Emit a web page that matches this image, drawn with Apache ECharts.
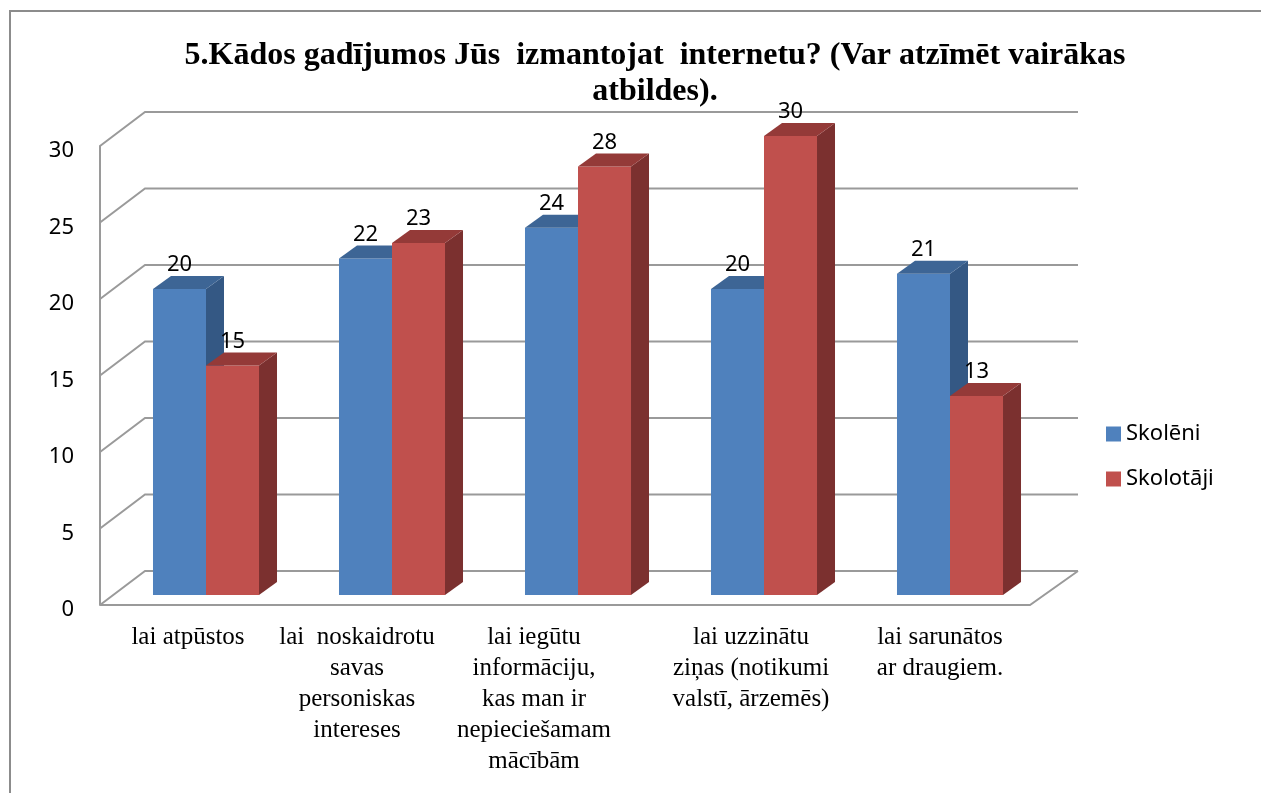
<!DOCTYPE html>
<html>
<head>
    <meta charset="utf-8"/>
    <title>5.Kādos gadījumos Jūs izmantojat internetu?</title>
    <script src="https://cdn.jsdelivr.net/npm/echarts@6/dist/echarts.min.js"></script>
    <style>
        html, body { margin: 0; padding: 0; background: #fff; }
        #chart1 { width: 1261px; height: 793px; }
    </style>
</head>
<body>
<div id="chart1"></div>
<script type="text/javascript">
    // dati
    var categories = [
        'lai atpūstos',
        'lai  noskaidrotu\nsavas\npersoniskas\nintereses',
        'lai iegūtu\ninformāciju,\nkas man ir\nnepieciešamam\nmācībām',
        'lai uzzinātu\nziņas (notikumi\nvalstī, ārzemēs)',
        'lai sarunātos\nar draugiem.'
    ];
    var skoleni = [20, 22, 24, 20, 21];
    var skolotaji = [15, 23, 28, 30, 13];
    var yTicks = [0, 5, 10, 15, 20, 25, 30];

    // 3D izskats (pikseļos)
    var WALL_DX = 45, WALL_DY = -34, WALL_DX_R = 48;
    var BAR_DX = 13, BAR_DY = -10, DEPTH_DX = 18, DEPTH_DY = -13;
    // kategoriju parakstu nobīde pa kreisi (px)
    var labelShift = [5, 22, 31, 0, -3];

    var myChart1 = echarts.init(document.getElementById('chart1'));

    function barRenderer(slot, colors) {
        return function (params, api) {
            var idx = api.value(0), v = api.value(1);
            var top = api.coord([idx, v]);
            var base = api.coord([idx, 0]);
            var bw = api.size([1, 0])[0] * 0.285;
            var x0 = top[0] - bw + slot * bw + BAR_DX;
            var yT = top[1] + BAR_DY, yB = base[1] + BAR_DY;
            return {
                type: 'group',
                children: [
                    {
                        type: 'rect',
                        shape: {x: x0, y: yT, width: bw, height: yB - yT},
                        style: {fill: colors[0]}
                    },
                    {
                        type: 'polygon',
                        shape: {points: [[x0 + bw, yT], [x0 + bw + DEPTH_DX, yT + DEPTH_DY],
                            [x0 + bw + DEPTH_DX, yB + DEPTH_DY], [x0 + bw, yB]]},
                        style: {fill: colors[2]}
                    },
                    {
                        type: 'polygon',
                        shape: {points: [[x0, yT], [x0 + DEPTH_DX, yT + DEPTH_DY],
                            [x0 + bw + DEPTH_DX, yT + DEPTH_DY], [x0 + bw, yT]]},
                        style: {fill: colors[1]}
                    },
                    {
                        type: 'text',
                        style: {
                            x: x0 + bw / 2, y: yT - 24, text: String(v),
                            align: 'center', verticalAlign: 'middle',
                            font: '22px "Noto Sans"', fill: '#000'
                        }
                    }
                ]
            };
        };
    }

    function wallRenderer(params, api) {
        var v = api.value(1);
        var y = api.coord([0, v])[1];
        var cs = params.coordSys;
        var x0 = cs.x, x1 = cs.x + cs.width;
        var st = {stroke: '#9a9a9a', lineWidth: 2, fill: null};
        var children = [{
            type: 'polyline',
            shape: {points: [[x0, y], [x0 + WALL_DX, y + WALL_DY], [x1 + WALL_DX_R, y + WALL_DY]]},
            style: st
        }];
        if (v === 0) {
            children.push({
                type: 'polyline',
                shape: {points: [[x0, y], [x1, y], [x1 + WALL_DX_R, y + WALL_DY]]},
                style: st
            });
        }
        return {type: 'group', children: children};
    }

    myChart1.setOption({
        animation: false,
        title: {
            text: '5.Kādos gadījumos Jūs  izmantojat  internetu? (Var atzīmēt vairākas\natbildes).',
            left: 650,
            top: 33,
            textAlign: 'center',
            textStyle: {
                fontFamily: '"Liberation Serif", serif',
                fontWeight: 'bold',
                fontSize: 32,
                lineHeight: 36,
                color: '#000'
            }
        },
        legend: {
            data: ['Skolēni', 'Skolotāji'],
            orient: 'vertical',
            left: 1106,
            top: 423,
            padding: 0,
            itemWidth: 15,
            itemHeight: 15,
            itemGap: 23,
            icon: 'rect',
            textStyle: {fontFamily: '"Noto Sans"', fontSize: 22, lineHeight: 22, color: '#000'}
        },
        graphic: [{
            type: 'rect',
            shape: {x: 10, y: 11, width: 1400, height: 900},
            style: {fill: null, stroke: '#8c8c8c', lineWidth: 2}
        }],
        grid: {left: 100, right: 231, top: 146, bottom: 188},
        xAxis: {
            type: 'category',
            data: categories,
            axisLine: {show: false},
            axisTick: {show: false},
            axisLabel: {
                interval: 0,
                margin: 17,
                formatter: function (val, i) {
                    return val.split('\n').map(function (s) {
                        return '{c' + i + '|' + s + '}';
                    }).join('\n');
                },
                rich: (function () {
                    var r = {};
                    labelShift.forEach(function (s, i) {
                        r['c' + i] = {
                            fontFamily: '"Liberation Serif", serif',
                            fontSize: 25,
                            lineHeight: 31,
                            color: '#000',
                            padding: s >= 0 ? [0, 2 * s, 0, 0] : [0, 0, 0, -2 * s]
                        };
                    });
                    return r;
                })()
            }
        },
        yAxis: {
            type: 'value',
            min: 0,
            max: 30,
            interval: 5,
            axisLine: {show: true, lineStyle: {color: '#9a9a9a', width: 2}},
            axisTick: {show: false},
            splitLine: {show: false},
            axisLabel: {
                margin: 26,
                formatter: '{t|{value}}',
                rich: {
                    t: {
                        fontFamily: '"Noto Sans"', fontSize: 22, color: '#000',
                        lineHeight: 22, padding: [10, 0, 0, 0]
                    }
                }
            }
        },
        series: [
            {
                type: 'custom',
                z: 1,
                silent: true,
                renderItem: wallRenderer,
                data: yTicks.map(function (t) { return [0, t]; })
            },
            {
                name: 'Skolēni',
                type: 'custom',
                z: 2,
                itemStyle: {color: '#4F81BD'},
                renderItem: barRenderer(0, ['#4F81BD', '#3D6595', '#345884']),
                data: skoleni.map(function (v, i) { return [i, v]; })
            },
            {
                name: 'Skolotāji',
                type: 'custom',
                z: 3,
                itemStyle: {color: '#C0504D'},
                renderItem: barRenderer(1, ['#C0504D', '#943A38', '#7B302F']),
                data: skolotaji.map(function (v, i) { return [i, v]; })
            }
        ]
    });
</script>
</body>
</html>
